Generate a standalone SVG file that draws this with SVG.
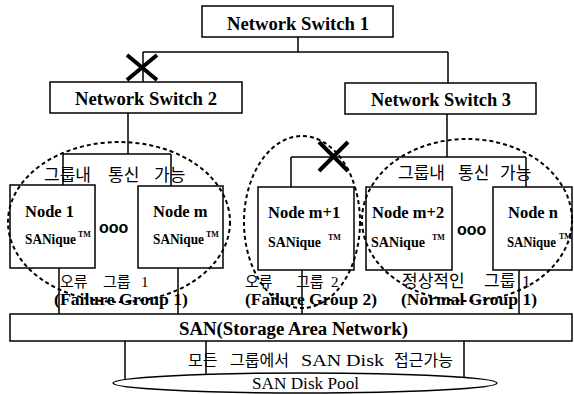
<svg xmlns="http://www.w3.org/2000/svg" width="574" height="394" viewBox="0 0 574 394">
<style>
.box{fill:#fff;stroke:#000;stroke-width:1.5}
.ln{fill:none;stroke:#000;stroke-width:1.5}
.x{stroke:#000;stroke-width:4}
.grp{fill:none;stroke:#000;stroke-width:2;stroke-dasharray:4 3}
.t{font-family:"Liberation Serif","Times New Roman",serif;font-weight:bold;fill:#000}
.sw{font-size:19px}
.nd{font-size:16.5px}
.sq{font-size:14px}
.tm{font-size:8px}
.gl{font-size:16px}
.ko{font-family:"Liberation Serif","Noto Sans CJK KR",serif;fill:#000}
.dots{font-family:"Liberation Sans",Arial,sans-serif;font-weight:bold;font-size:16px}
</style>
<rect x="0" y="0" width="574" height="394" fill="#fff"/>

<g id="connectors">
  <path class="ln" d="M298,37V52M143,52H448M143,52V82M448,52V83"/>
  <path class="ln" d="M128,113V154M63,154H171M63,154V185M171,154V186"/>
  <path class="ln" d="M447,114V157M291,157H526M291,157V187M526,157V187"/>
  <path class="ln" d="M59,268V314M178,268V314M302,270V314M519,268V314"/>
  <path class="ln" d="M125,341V382M206,341V376M464,341V378"/>
  <path class="x" d="M127,55L157,80M157,55L127,80"/>
  <path class="x" d="M319,142L348,171M348,142L319,171"/>
</g>

<g id="ns1">
  <rect class="box" x="202" y="6" width="191" height="31"/>
  <text class="t sw" x="227" y="30" textLength="142" lengthAdjust="spacingAndGlyphs">Network Switch 1</text>
</g>
<g id="ns2">
  <rect class="box" x="50" y="82" width="192" height="31"/>
  <text class="t sw" x="75" y="105" textLength="142" lengthAdjust="spacingAndGlyphs">Network Switch 2</text>
</g>
<g id="ns3">
  <rect class="box" x="345" y="83" width="191" height="31"/>
  <text class="t sw" x="371" y="106" textLength="140" lengthAdjust="spacingAndGlyphs">Network Switch 3</text>
</g>

<g id="node1">
  <rect class="box" x="10" y="185" width="85" height="83"/>
  <text class="t nd" x="25" y="217">Node 1</text>
  <text class="t sq" x="25" y="244"><tspan textLength="51" lengthAdjust="spacingAndGlyphs">SANique</tspan><tspan class="tm" x="78" y="237">TM</tspan></text>
</g>
<g id="nodem">
  <rect class="box" x="138" y="186" width="85" height="82"/>
  <text class="t nd" x="153" y="217">Node m</text>
  <text class="t sq" x="153" y="244"><tspan textLength="51" lengthAdjust="spacingAndGlyphs">SANique</tspan><tspan class="tm" x="206" y="237">TM</tspan></text>
</g>
<text class="dots" x="99" y="233">ooo</text>

<g id="nodem1">
  <rect class="box" x="258" y="187" width="96" height="83"/>
  <text class="t nd" x="268" y="218">Node m+1</text>
  <text class="t sq" x="268" y="247"><tspan textLength="53" lengthAdjust="spacingAndGlyphs">SANique</tspan><tspan class="tm" x="328" y="240">TM</tspan></text>
</g>
<g id="nodem2">
  <rect class="box" x="366" y="187" width="86" height="83"/>
  <text class="t nd" x="372" y="218">Node m+2</text>
  <text class="t sq" x="371" y="247"><tspan textLength="54" lengthAdjust="spacingAndGlyphs">SANique</tspan><tspan class="tm" x="432" y="240">TM</tspan></text>
</g>
<text class="dots" x="457" y="235">ooo</text>
<g id="noden">
  <rect class="box" x="493" y="187" width="79" height="83"/>
  <text class="t nd" x="508" y="218">Node n</text>
  <text class="t sq" x="507" y="247"><tspan textLength="49" lengthAdjust="spacingAndGlyphs">SANique</tspan><tspan class="tm" x="559" y="239">TM</tspan></text>
</g>

<g id="san">
  <rect class="box" x="10" y="314" width="562" height="27"/>
  <text class="t" font-size="18" x="179" y="335" textLength="229" lengthAdjust="spacingAndGlyphs">SAN(Storage Area Network)</text>
</g>

<g id="diskpool">
  <ellipse cx="305" cy="383" rx="192" ry="10" fill="#fff" stroke="#000" stroke-width="1.5"/>
  <text font-family="Liberation Serif,Times New Roman,serif" font-size="16" x="252" y="389" textLength="107" lengthAdjust="spacingAndGlyphs">SAN Disk Pool</text>
</g>
<text class="ko" font-size="16" y="366"><tspan x="188">모든 </tspan><tspan x="230">그룹에서 </tspan><tspan x="301" textLength="83" lengthAdjust="spacingAndGlyphs">SAN Disk</tspan><tspan> </tspan><tspan x="394">접근가능</tspan></text>

<g id="group-failure1">
  <ellipse class="grp" cx="119" cy="222" rx="111" ry="80"/>
  <text class="ko" font-size="17" y="181"><tspan x="44">그룹내 </tspan><tspan x="108">통신 </tspan><tspan x="154">가능</tspan></text>
  <text class="ko" font-size="15" y="287"><tspan x="60">오류 </tspan><tspan x="103">그룹 </tspan><tspan x="141">1</tspan></text>
  <text class="t gl" x="54" y="305" textLength="134" lengthAdjust="spacingAndGlyphs">(Failure Group 1)</text>
</g>
<g id="group-failure2">
  <ellipse class="grp" cx="302" cy="222" rx="58" ry="86"/>
  <text class="ko" font-size="15" y="287"><tspan x="245">오류 </tspan><tspan x="296">그룹 </tspan><tspan x="331">2</tspan></text>
  <text class="t gl" x="245" y="305" textLength="132" lengthAdjust="spacingAndGlyphs">(Failure Group 2)</text>
</g>
<g id="group-normal1">
  <ellipse class="grp" cx="467" cy="220" rx="105" ry="81"/>
  <text class="ko" font-size="17" y="179"><tspan x="398">그룹내 </tspan><tspan x="458">통신 </tspan><tspan x="500">가능</tspan></text>
  <text class="ko" font-size="17" y="287"><tspan x="402">정상적인 </tspan><tspan x="484">그룹 </tspan><tspan x="522">1</tspan></text>
  <text class="t gl" x="401" y="305" textLength="136" lengthAdjust="spacingAndGlyphs">(Normal Group 1)</text>
</g>
</svg>
